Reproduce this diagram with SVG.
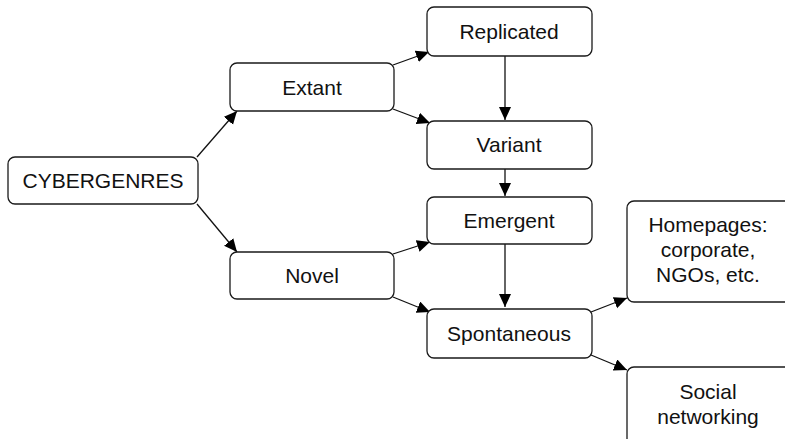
<svg xmlns="http://www.w3.org/2000/svg" width="785" height="439" viewBox="0 0 785 439">
<style>
.box{fill:#fff;stroke:#1a1a1a;stroke-width:1.3}
.lbl{font-family:"Liberation Sans",Arial,sans-serif;font-size:21px;fill:#111;text-anchor:middle}
.edge{stroke:#111;stroke-width:1.3;fill:none;marker-end:url(#arr)}
</style>
<defs>
<marker id="arr" markerUnits="userSpaceOnUse" markerWidth="14" markerHeight="13" refX="13" refY="6" orient="auto">
<path d="M0,0 L13,6 L0,12 z" fill="#000"/>
</marker>
</defs>
<rect width="785" height="439" fill="#fff"/>
<g id="connectors">
<line class="edge" x1="197" y1="157" x2="237" y2="111"/>
<line class="edge" x1="197" y1="204" x2="237" y2="252"/>
<line class="edge" x1="393" y1="65" x2="429" y2="52"/>
<line class="edge" x1="393" y1="109" x2="430" y2="123"/>
<line class="edge" x1="393" y1="254" x2="430" y2="242"/>
<line class="edge" x1="393" y1="297" x2="430" y2="312"/>
<line class="edge" x1="505" y1="56" x2="505" y2="120"/>
<line class="edge" x1="505" y1="169" x2="505" y2="196"/>
<line class="edge" x1="505" y1="244" x2="505" y2="307"/>
<line class="edge" x1="591" y1="312" x2="627" y2="298"/>
<line class="edge" x1="591" y1="355" x2="627" y2="370"/>
</g>
<g id="cybergenres">
<rect class="box" x="8" y="157" width="190" height="47" rx="7"/>
<text class="lbl" x="103" y="188">CYBERGENRES</text>
</g>
<g id="extant">
<rect class="box" x="230" y="63" width="164" height="48" rx="7"/>
<text class="lbl" x="312" y="95">Extant</text>
</g>
<g id="novel">
<rect class="box" x="230" y="252" width="164" height="47" rx="7"/>
<text class="lbl" x="312" y="283">Novel</text>
</g>
<g id="replicated">
<rect class="box" x="427" y="7" width="165" height="49" rx="7"/>
<text class="lbl" x="509" y="39">Replicated</text>
</g>
<g id="variant">
<rect class="box" x="427" y="121" width="165" height="48" rx="7"/>
<text class="lbl" x="509" y="152">Variant</text>
</g>
<g id="emergent">
<rect class="box" x="427" y="197" width="165" height="47" rx="7"/>
<text class="lbl" x="509" y="228">Emergent</text>
</g>
<g id="spontaneous">
<rect class="box" x="427" y="309" width="165" height="49" rx="7"/>
<text class="lbl" x="509" y="341">Spontaneous</text>
</g>
<g id="homepages">
<rect class="box" x="627" y="201" width="166" height="101" rx="7"/>
<text class="lbl" x="708" y="232">Homepages:</text>
<text class="lbl" x="708" y="257">corporate,</text>
<text class="lbl" x="708" y="282">NGOs, etc.</text>
</g>
<g id="social">
<rect class="box" x="627" y="367" width="166" height="90" rx="7"/>
<text class="lbl" x="708" y="399">Social</text>
<text class="lbl" x="708" y="424">networking</text>
</g>
</svg>
